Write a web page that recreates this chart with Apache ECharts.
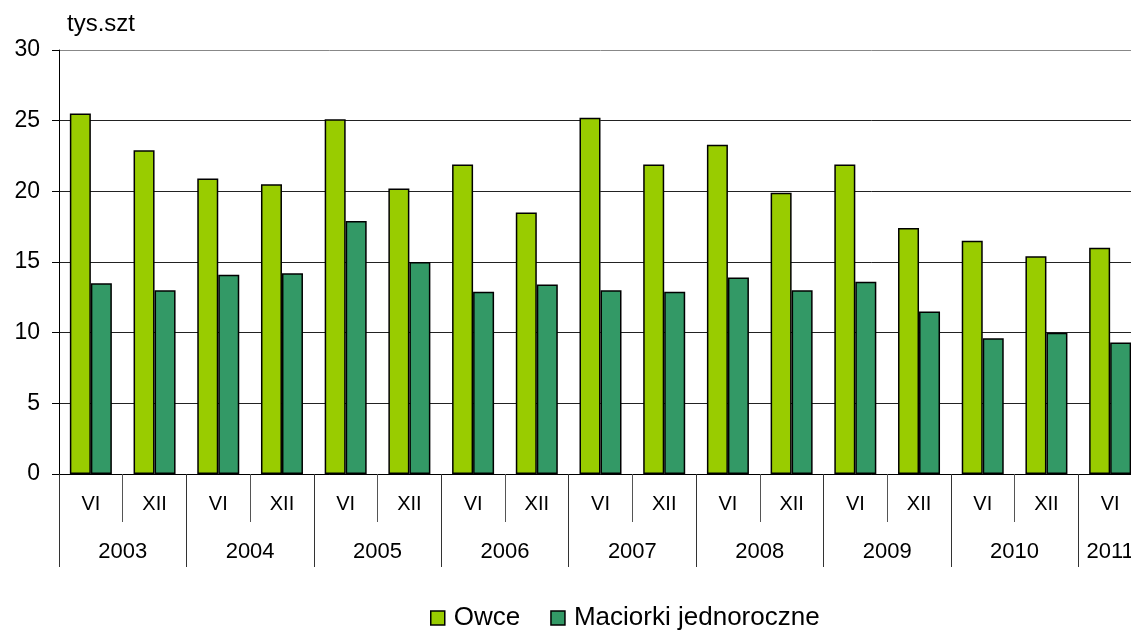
<!DOCTYPE html>
<html>
<head>
<meta charset="utf-8">
<script src="https://cdn.jsdelivr.net/npm/echarts@6/dist/echarts.min.js"></script>
<style>
  html, body { margin: 0; padding: 0; background: #fff; overflow: hidden; }
  /* wykres szerszy niz okno - ostatnia kategoria jest uciety jak w oryginale */
  #chart { width: 1142px; height: 637px; }
</style>
</head>
<body>
<div id="chart"></div>
<script>
// dane
let periods = ['VI', 'XII', 'VI', 'XII', 'VI', 'XII', 'VI', 'XII', 'VI', 'XII', 'VI', 'XII', 'VI', 'XII', 'VI', 'XII', 'VI'];
let years = ['2003', '2004', '2005', '2006', '2007', '2008', '2009', '2010', '2011'];
let owce = [25.5, 22.9, 20.9, 20.5, 25.1, 20.2, 21.9, 18.5, 25.2, 21.9, 23.3, 19.9, 21.9, 17.4, 16.5, 15.4, 16.0];
let maciorki = [13.5, 13.0, 14.1, 14.2, 17.9, 15.0, 12.9, 13.4, 13.0, 12.9, 13.9, 13.0, 13.6, 11.5, 9.6, 10.0, 9.3];
let yTicks = [0, 5, 10, 15, 20, 25, 30];

// druga os: punkty co pol kategorii (35 punktow), rok w srodku kazdej pary
let halfPoints = [];
for (let i = 0; i < periods.length * 2 + 1; i++) {
    halfPoints.push(i);
}
function yearLabel(i) {
    if (i % 4 === 2) return years[(i - 2) / 4];
    if (i === periods.length * 2 - 1) return years[years.length - 1];
    return '';
}

let fontName = '"Liberation Sans", Arial, sans-serif';
let myChart = echarts.init(document.getElementById('chart'));
myChart.setOption({
    animation: false,
    textStyle: {fontFamily: fontName},
    title: {
        text: 'tys.szt',
        left: 62,
        top: 7,
        textStyle: {fontSize: 24, fontWeight: 'normal', color: '#000', fontFamily: fontName}
    },
    legend: {
        bottom: 1,
        left: 425,
        icon: 'rect',
        itemWidth: 14,
        itemHeight: 14,
        itemGap: 30,
        selectedMode: false,
        itemStyle: {borderColor: '#000', borderWidth: 1.5},
        textStyle: {fontSize: 26, color: '#000', fontFamily: fontName, padding: [0, 0, 0, 4]},
        data: ['Owce', 'Maciorki jednoroczne']
    },
    grid: {
        left: 59,
        right: 0,
        top: 50,
        bottom: 163,
        containLabel: false
    },
    xAxis: [
        {
            type: 'category',
            data: periods,
            position: 'bottom',
            axisLine: {show: true, lineStyle: {color: '#000', width: 1}},
            axisTick: {show: true, length: 48, interval: 0, lineStyle: {color: '#555'}},
            axisLabel: {margin: 20, fontSize: 20, color: '#000', interval: 0}
        },
        {
            type: 'category',
            data: halfPoints,
            position: 'bottom',
            boundaryGap: false,
            axisLine: {show: false},
            axisTick: {
                show: true,
                length: 93,
                interval: function (i) { return i % 4 === 0; },
                lineStyle: {color: '#333'}
            },
            axisLabel: {
                margin: 67,
                fontSize: 22,
                color: '#000',
                interval: function (i) { return yearLabel(i) !== ''; },
                formatter: function (v, i) { return yearLabel(i); }
            }
        }
    ],
    yAxis: {
        type: 'value',
        min: yTicks[0],
        max: yTicks[yTicks.length - 1],
        interval: 5,
        axisLine: {show: true, lineStyle: {color: '#000'}},
        axisTick: {show: true, length: 7, lineStyle: {color: '#000'}},
        axisLabel: {margin: 19, fontSize: 23, color: '#000'},
        splitLine: {
            lineStyle: {
                color: ['#222', '#222', '#222', '#222', '#222', '#222', '#888'],
                width: 1
            }
        }
    },
    series: [
        {
            name: 'Owce',
            type: 'bar',
            xAxisIndex: 0,
            barWidth: 21,
            barGap: '0%',
            itemStyle: {color: '#99cc00', borderColor: '#000', borderWidth: 1.5},
            data: owce
        },
        {
            name: 'Maciorki jednoroczne',
            type: 'bar',
            xAxisIndex: 0,
            barWidth: 21,
            barGap: '0%',
            itemStyle: {color: '#339966', borderColor: '#000', borderWidth: 1.5},
            data: maciorki
        }
    ]
});
</script>
</body>
</html>
